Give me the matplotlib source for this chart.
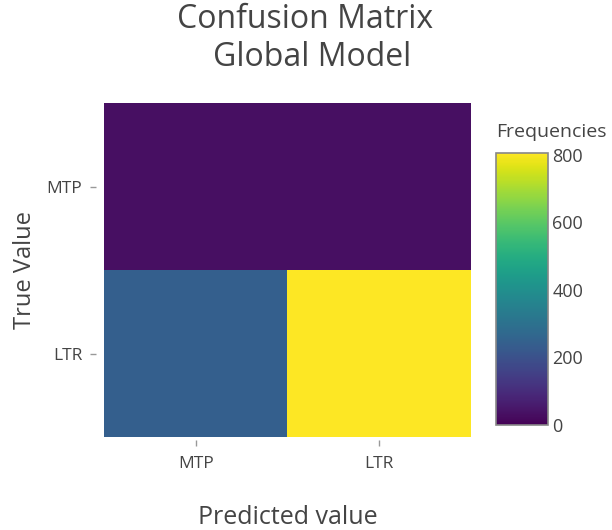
import numpy as np
import matplotlib.pyplot as plt

labels = ["MTP", "LTR"]
# rows: true value (MTP, LTR), cols: predicted value (MTP, LTR)
freq = np.array([[32, 34],
                 [245, 805]])

plt.rcParams['font.family'] = ['Open Sans', 'DejaVu Sans']
txt = "#444444"

W, H = 612, 530
fig = plt.figure(figsize=(W / 100, H / 100), dpi=100)

ax = fig.add_axes([104 / W, 1 - 437 / H, (471 - 104) / W, (437 - 103) / H])
im = ax.imshow(freq, cmap="viridis", vmin=0, vmax=freq.max(),
               aspect="auto", origin="upper", interpolation="nearest")

ax.set_xticks(range(len(labels)))
ax.set_xticklabels(labels)
ax.set_yticks(range(len(labels)))
ax.set_yticklabels(labels)
# plotly-style ticks sit a little away from the heatmap
ax.spines["left"].set_position(("outward", 6))
ax.spines["bottom"].set_position(("outward", 2.5))
for s in ax.spines.values():
    s.set_visible(False)
ax.tick_params(axis="both", length=4.5, width=1, labelsize=12.5,
               labelcolor=txt, color="#999999")
ax.tick_params(axis="y", pad=5)
ax.tick_params(axis="x", pad=7)

ax.set_xlabel("Predicted value", fontsize=18, color=txt, va="center")
ax.xaxis.set_label_coords(0.5, (437 - 518) / 334)
ax.set_ylabel("True Value", fontsize=17, color=txt, va="center")
ax.yaxis.set_label_coords((25 - 104) / 367, 0.5)

fig.text(305 / W, 1 - 20 / H, "Confusion Matrix", fontsize=23, color=txt,
         ha="center", va="center")
fig.text(312 / W, 1 - 57 / H, "Global Model", fontsize=23, color=txt,
         ha="center", va="center")

cax = fig.add_axes([496 / W, 1 - 425 / H, (548 - 496) / W, (425 - 153) / H])
cb = fig.colorbar(im, cax=cax, ticks=[0, 200, 400, 600, 800])
cb.outline.set_edgecolor("#888888")
cb.outline.set_linewidth(1.2)
cax.tick_params(length=0, pad=3, labelsize=13, colors=txt)
fig.text(496 / W, 1 - 132 / H, "Frequencies", fontsize=14, color=txt,
         ha="left", va="center")

fig.savefig("out.png", dpi=100)
